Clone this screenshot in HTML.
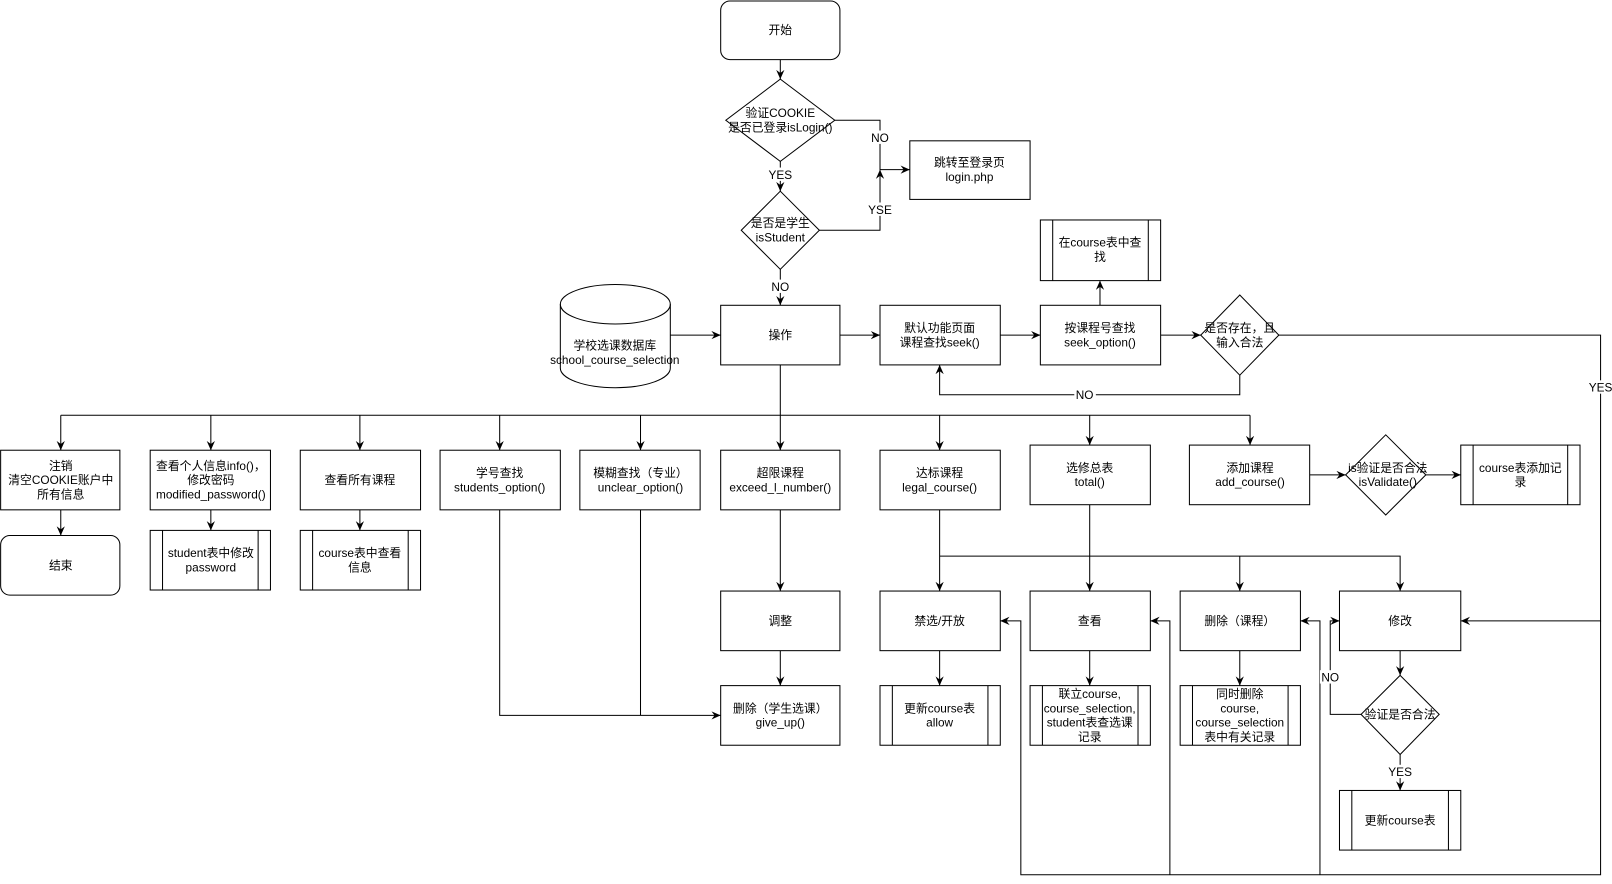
<!DOCTYPE html>
<html><head><meta charset="utf-8"><style>
html,body{margin:0;padding:0;background:#fff;}
svg{display:block;}
text{font-family:"Liberation Sans","Noto Sans CJK SC",sans-serif;font-size:11.5px;fill:#000;text-anchor:middle;}
.b{fill:#fff;stroke:#000;stroke-width:1;}
.l{fill:none;stroke:#000;stroke-width:1;}
.lb{fill:#fff;}
</style></head><body>
<svg width="1612" height="884" viewBox="0 0 1568 860" xmlns="http://www.w3.org/2000/svg">
<defs><marker id="a" markerWidth="10" markerHeight="10" refX="9" refY="5" orient="auto" markerUnits="userSpaceOnUse"><path d="M0,1 L9,5 L0,9 L3,5 Z" fill="#000"/></marker></defs>

<!-- connectors -->
<g class="l" marker-end="url(#a)">
<path d="M759,58 V77"/>
<path d="M759,157 V186"/>
<path d="M812,117 H856 V165 H885"/>
<path d="M797,224 H856 V165"/>
<path d="M759,262 V297"/>
<path d="M652,326 H701"/>
<path d="M817,326 H856"/>
<path d="M973,326 H1012"/>
<path d="M1070,297 V273"/>
<path d="M1129,326 H1168"/>
<path d="M1244,326 H1557 V604 H1421"/>
<path d="M1206,365 V384 H914 V355"/>
<path d="M59,404 V438"/><path d="M205,404 V438"/><path d="M350,404 V438"/><path d="M486,404 V438"/><path d="M623,404 V438"/><path d="M759,404 V438"/><path d="M914,404 V438"/><path d="M1060,404 V433"/><path d="M1216,404 V433"/>
<path d="M1274,462 H1309"/>
<path d="M1387,462 H1421"/>
<path d="M59,496 V521"/><path d="M205,496 V516"/><path d="M350,496 V516"/>
<path d="M759,496 V575"/><path d="M759,633 V667"/>
<path d="M486,496 V696 H701"/>
<path d="M914,496 V575"/>
<path d="M914,541 H1362 V575"/>
<path d="M1060,491 V575"/>
<path d="M1206,541 V575"/>
<path d="M914,633 V667"/><path d="M1060,633 V667"/><path d="M1206,633 V667"/>
<path d="M1362,633 V657"/>
<path d="M1324,695 H1294 V604 H1303"/>
<path d="M1362,734 V769"/>
<path d="M1557,604 V851 H993 V604 H973"/>
<path d="M1138,851 V604 H1119"/>
<path d="M1284,851 V604 H1265"/>
</g>
<path class="l" d="M759,355 V404 M59,404 H1216 M623,496 V696"/>

<!-- shapes -->
<rect class="b" x="701" y="1" width="116" height="57" rx="9"/>
<path class="b" d="M759,77 L812,117 L759,157 L706,117 Z"/>
<path class="b" d="M759,186 L797,224 L759,262 L721,224 Z"/>
<rect class="b" x="885" y="137" width="117" height="57"/>
<rect class="b" x="701" y="297" width="116" height="58"/>
<path class="b" d="M545,296 A53,19 0 0 1 652,296 V358 A53,19 0 0 1 545,358 Z"/>
<path class="l" d="M545,296 A53,19 0 0 0 652,296"/>
<rect class="b" x="856" y="297" width="117" height="58"/>
<rect class="b" x="1012" y="297" width="117" height="58"/>
<rect class="b" x="1012" y="214" width="117" height="59"/><path class="l" d="M1024,214 V273 M1117,214 V273"/>
<path class="b" d="M1206,287 L1244,326 L1206,365 L1168,326 Z"/>

<rect class="b" x="0.5" y="438" width="116" height="58"/>
<rect class="b" x="146" y="438" width="117" height="58"/>
<rect class="b" x="292" y="438" width="117" height="58"/>
<rect class="b" x="428" y="438" width="117" height="58"/>
<rect class="b" x="564" y="438" width="117" height="58"/>
<rect class="b" x="701" y="438" width="116" height="58"/>
<rect class="b" x="856" y="438" width="117" height="58"/>
<rect class="b" x="1002" y="433" width="117" height="58"/>
<rect class="b" x="1157" y="433" width="117" height="58"/>
<path class="b" d="M1348,423 L1387,462 L1348,501 L1309,462 Z"/>
<rect class="b" x="1421" y="433" width="116" height="58"/><path class="l" d="M1433,433 V491 M1525,433 V491"/>

<rect class="b" x="0.5" y="521" width="116" height="58" rx="9"/>
<rect class="b" x="146" y="516" width="117" height="58"/><path class="l" d="M158,516 V574 M251,516 V574"/>
<rect class="b" x="292" y="516" width="117" height="58"/><path class="l" d="M304,516 V574 M397,516 V574"/>
<rect class="b" x="701" y="575" width="116" height="58"/>
<rect class="b" x="701" y="667" width="116" height="58"/>
<rect class="b" x="856" y="575" width="117" height="58"/>
<rect class="b" x="1002" y="575" width="117" height="58"/>
<rect class="b" x="1148" y="575" width="117" height="58"/>
<rect class="b" x="1303" y="575" width="118" height="58"/>
<rect class="b" x="856" y="667" width="117" height="58"/><path class="l" d="M868,667 V725 M961,667 V725"/>
<rect class="b" x="1002" y="667" width="117" height="58"/><path class="l" d="M1014,667 V725 M1107,667 V725"/>
<rect class="b" x="1148" y="667" width="117" height="58"/><path class="l" d="M1160,667 V725 M1253,667 V725"/>
<path class="b" d="M1362,657 L1400,695 L1362,734 L1324,695 Z"/>
<rect class="b" x="1303" y="769" width="118" height="58"/><path class="l" d="M1315,769 V827 M1409,769 V827"/>

<!-- label backgrounds -->
<rect class="lb" x="846" y="127" width="20" height="13"/>
<rect class="lb" x="744" y="163" width="30" height="13"/>
<rect class="lb" x="843" y="197" width="27" height="13"/>
<rect class="lb" x="748" y="272" width="22" height="13"/>
<rect class="lb" x="1045" y="377" width="21" height="13"/>
<rect class="lb" x="1544" y="370" width="26" height="13"/>
<rect class="lb" x="1284" y="652" width="21" height="13"/>
<rect class="lb" x="1348" y="744" width="28" height="13"/>

<!-- text -->
<text x="759" y="33">开始</text>
<text x="759" y="114">验证COOKIE</text><text x="759" y="128">是否已登录isLogin()</text>
<text x="856" y="138">NO</text>
<text x="759" y="174">YES</text>
<text x="856" y="208">YSE</text>
<text x="943" y="162">跳转至登录页</text><text x="943" y="176">login.php</text>
<text x="759" y="221">是否是学生</text><text x="759" y="235">isStudent</text>
<text x="759" y="283">NO</text>
<text x="759" y="330">操作</text>
<text x="598" y="340">学校选课数据库</text><text x="598" y="354">school_course_selection</text>
<text x="914" y="323">默认功能页面</text><text x="914" y="337">课程查找seek()</text>
<text x="1070" y="323">按课程号查找</text><text x="1070" y="337">seek_option()</text>
<text x="1070" y="240">在course表中查</text><text x="1070" y="254">找</text>
<text x="1206" y="323">是否存在，且</text><text x="1206" y="337">输入合法</text>
<text x="1055" y="388">NO</text>
<text x="1557" y="381">YES</text>

<text x="59" y="457">注销</text><text x="59" y="471">清空COOKIE账户中</text><text x="59" y="485">所有信息</text>
<text x="205" y="457">查看个人信息info()，</text><text x="205" y="471">修改密码</text><text x="205" y="485">modified_password()</text>
<text x="350" y="471">查看所有课程</text>
<text x="486" y="464">学号查找</text><text x="486" y="478">students_option()</text>
<text x="623" y="464">模糊查找（专业）</text><text x="623" y="478">unclear_option()</text>
<text x="759" y="464">超限课程</text><text x="759" y="478">exceed_l_number()</text>
<text x="914" y="464">达标课程</text><text x="914" y="478">legal_course()</text>
<text x="1060" y="459">选修总表</text><text x="1060" y="473">total()</text>
<text x="1216" y="459">添加课程</text><text x="1216" y="473">add_course()</text>
<text x="1350" y="459">is验证是否合法</text><text x="1350" y="473">isValidate()</text>
<text x="1479" y="459">course表添加记</text><text x="1479" y="473">录</text>

<text x="59" y="554">结束</text>
<text x="205" y="542">student表中修改</text><text x="205" y="556">password</text>
<text x="350" y="542">course表中查看</text><text x="350" y="556">信息</text>
<text x="759" y="608">调整</text>
<text x="759" y="693">删除（学生选课）</text><text x="759" y="707">give_up()</text>
<text x="914" y="608">禁选/开放</text>
<text x="1060" y="608">查看</text>
<text x="1206" y="608">删除（课程）</text>
<text x="1362" y="608">修改</text>
<text x="914" y="693">更新course表</text><text x="914" y="707">allow</text>
<text x="1060" y="679">联立course,</text><text x="1060" y="693">course_selection,</text><text x="1060" y="707">student表查选课</text><text x="1060" y="721">记录</text>
<text x="1206" y="679">同时删除</text><text x="1206" y="693">course,</text><text x="1206" y="707">course_selection</text><text x="1206" y="721">表中有关记录</text>
<text x="1362" y="699">验证是否合法</text>
<text x="1294" y="663">NO</text>
<text x="1362" y="755">YES</text>
<text x="1362" y="802">更新course表</text>
</svg>
</body></html>
